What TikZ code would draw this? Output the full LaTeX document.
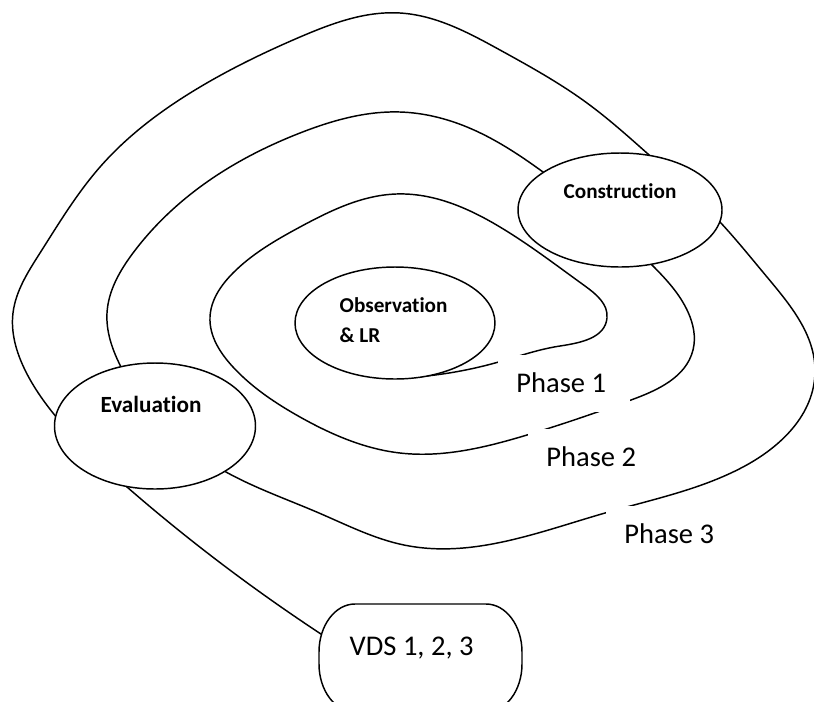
\documentclass[tikz,border=0pt]{standalone}
\usepackage{fontspec}
\setmainfont{Carlito}[Ligatures=NoCommon]
\usetikzlibrary{shapes.geometric,backgrounds,hobby}
\begin{document}
\begin{tikzpicture}[x=0.75pt,y=-0.75pt,
  line width=1.1pt, line join=round,
  stage/.style={ellipse, draw, fill=white, inner sep=0pt},
  stagetext/.style={font=\bfseries\fontsize{15.9}{22.5}\selectfont, inner sep=0pt},
  plaintext/.style={font=\fontsize{21.4}{25}\selectfont, inner sep=0pt},
  phasebox/.style={fill=white, font=\fontsize{21.4}{25}\selectfont,
    inner xsep=14pt, inner ysep=0pt, text width=71pt, align=flush left,
    text height=13.8pt, text depth=0pt,
    minimum height=43pt, anchor=north west},
  spiral/.style={line width=1.1pt, use Hobby shortcut}]
\useasboundingbox (0,0) rectangle (814,701);
\clip (0,0) rectangle (814,701);

% stages of the cycle
\node[stage, minimum width=150pt, minimum height=84pt]   (obs)  at (395,323) {};
\node[stage, minimum width=153pt, minimum height=85.5pt] (cons) at (620,210) {};
\node[stage, minimum width=150.75pt, minimum height=94.5pt] (eval) at (155,426) {};

\node[stagetext, anchor=base west] (obsA) at (339,312) {Observation};
\node[stagetext, anchor=base west] (obsB) at (339,342) {\& LR};
\node[stagetext, anchor=base] (consT) at (620,198) {Construction};
\node[stagetext, anchor=base, font=\bfseries\fontsize{17.4}{22.5}\selectfont]
  (evalT) at (151,412) {Evaluation};

% outcome box with elliptic corners (y axis points down)
\draw[fill=white] (355,604) -- (486,604)
  arc[start angle=-90, end angle=0, x radius=36, y radius=48] -- (522,664)
  arc[start angle=0, end angle=90, x radius=36, y radius=48] -- (355,712)
  arc[start angle=90, end angle=180, x radius=36, y radius=48] -- (319,652)
  arc[start angle=180, end angle=270, x radius=36, y radius=48] -- cycle;
\node[plaintext, anchor=base west] (vds) at (349,655) {VDS 1, 2, 3};
\coordinate (vdsin) at (324,636);
\coordinate (core) at ([shift={(10,-2)}]obs.south);

% phase labels on white boxes that break the spiral
\node[phasebox] (ph1) at (497,354) {Phase 1};
\node[phasebox] (ph2) at (527,428) {Phase 2};
\node[phasebox] (ph3) at (605,505) {Phase 3};

% the spiral, from the core outwards to the outcome
\begin{pgfonlayer}{background}
\draw[spiral] (core) .. (495,363) .. (560,346) .. (607,318) .. (585,286)
  .. (500,227) .. (396,194) .. (300,227) .. (233,273) .. (210,317)
  .. (233,367) .. (300,417) .. (400,453) .. (527,435) .. (631,400)
  .. (693,350) .. (688,312) .. (652,265) .. (543,172) .. (467,127)
  .. (400,112) .. (300,133) .. (200,187) .. (133,253) .. (107,313)
  .. (120,365) .. (226,472) .. (319,513) .. (404,545) .. (605,513)
  .. (743,467) .. (815,372) .. (767,277) .. (720,222) .. (648,154)
  .. (587,103) .. (500,50) .. (400,13) .. (300,37) .. (200,87)
  .. (100,167) .. (40,253) .. (13,313) .. (25,370) .. (53,413)
  .. (127,487) .. (300,620) .. (vdsin);
\end{pgfonlayer}
\end{tikzpicture}
\end{document}
